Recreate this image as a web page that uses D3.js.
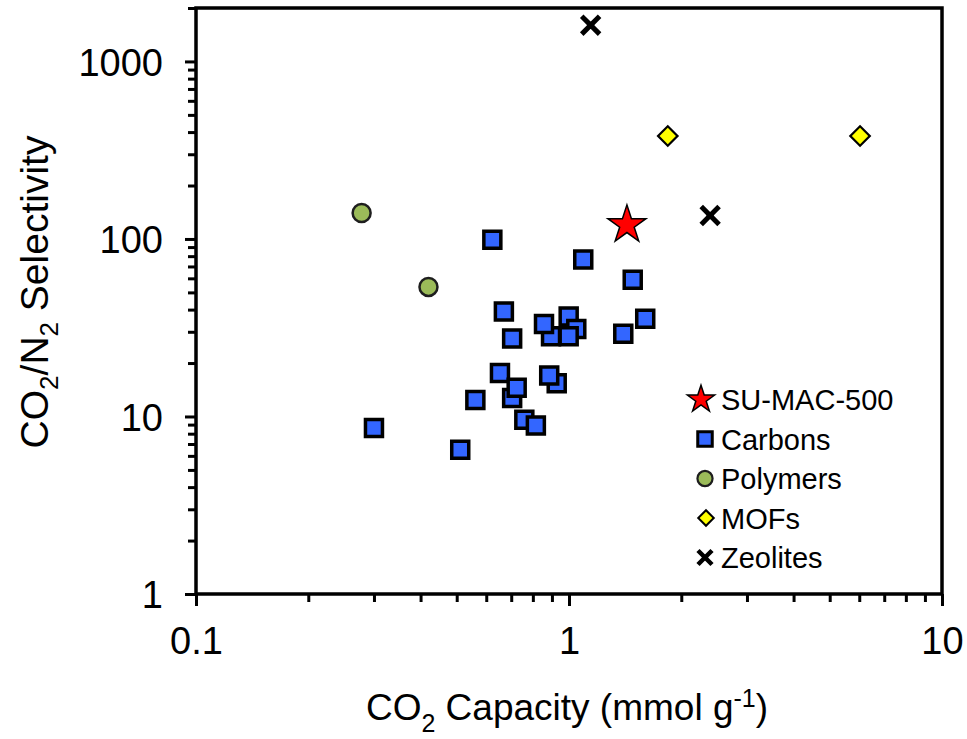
<!DOCTYPE html>
<html>
<head>
<meta charset="utf-8">
<script src="https://cdn.jsdelivr.net/npm/d3@7"></script>
<style>
  html, body { margin: 0; padding: 0; background: #fff; }
  svg { display: block; font-family: "Liberation Sans", Arial, sans-serif; }
</style>
</head>
<body>
<svg id="chart" width="967" height="739"></svg>
<script>
// ---------- data ----------
const xMajorTicks = [0.1, 1, 10];
const xTickLabels = ["0.1", "1", "10"];
const yMajorTicks = [1, 10, 100, 1000];
const yTickLabels = ["1", "10", "100", "1000"];

const suMacX = [1.43];
const suMacY = [120];

const carbonsX = [0.623, 1.092, 1.482, 0.669, 0.704, 0.998, 1.046, 0.895, 0.857, 0.998, 1.398, 1.601, 0.653, 0.927, 0.885, 0.704, 0.724, 0.561, 0.759, 0.815, 0.300, 0.511];
const carbonsY = [99, 76.5, 59, 39, 27.5, 36.6, 31.1, 28.3, 33.2, 28.3, 29.2, 35.5, 17.6, 15.4, 17.0, 12.7, 14.5, 12.4, 9.6, 8.9, 8.6, 6.5];

const polymersX = [0.278, 0.420];
const polymersY = [140, 53.7];

const mofsX = [1.84, 6.03];
const mofsY = [380, 380];

const zeolitesX = [1.143, 2.39];
const zeolitesY = [1600, 135.6];

const legendLabels = ["SU-MAC-500", "Carbons", "Polymers", "MOFs", "Zeolites"];

// ---------- layout ----------
const svg = d3.select("#chart");
const L = 196, R = 942, T = 8, B = 594;

const x = d3.scaleLog().domain([0.1, 10]).range([L, R]);
const y = d3.scaleLog().domain([1, 2000]).range([B, T]);

const minorX = [];
[0.1, 1].forEach(d => { for (let k = 2; k <= 9; k++) minorX.push(d * k); });
const minorY = [];
[1, 10, 100].forEach(d => { for (let k = 2; k <= 9; k++) minorY.push(d * k); });
minorY.push(2000);

// minor ticks
const gxm = svg.append("g").attr("transform", `translate(0,${B})`)
  .call(d3.axisBottom(x).tickValues(minorX).tickSize(8).tickFormat(""));
const gym = svg.append("g").attr("transform", `translate(${L},0)`)
  .call(d3.axisLeft(y).tickValues(minorY).tickSize(8).tickFormat(""));

// major ticks
const gx = svg.append("g").attr("transform", `translate(0,${B})`)
  .call(d3.axisBottom(x).tickValues(xMajorTicks).tickSize(12)
    .tickFormat((d, i) => xTickLabels[i]));
const gy = svg.append("g").attr("transform", `translate(${L},0)`)
  .call(d3.axisLeft(y).tickValues(yMajorTicks).tickSize(11)
    .tickFormat((d, i) => yTickLabels[i]));

[gxm, gym, gx, gy].forEach(g => {
  g.select(".domain").remove();
  g.selectAll(".tick line").attr("stroke", "#000").attr("stroke-width", 3);
});

gx.selectAll(".tick text")
  .attr("fill", "#000").attr("font-size", 38)
  .attr("y", 60).attr("dy", 0)
  .attr("text-anchor", "middle");
gy.selectAll(".tick text")
  .attr("fill", "#000").attr("font-size", 38)
  .attr("x", -33).attr("dy", "0.36em")
  .attr("text-anchor", "end");

// frame
svg.append("rect")
  .attr("x", L).attr("y", T).attr("width", R - L).attr("height", B - T)
  .attr("fill", "none").attr("stroke", "#000").attr("stroke-width", 3.5);

// ---------- markers ----------
const plot = svg.append("g");

function zip(xs, ys) { return xs.map((v, i) => ({ x: v, y: ys[i] })); }

// polymers
plot.selectAll("path.poly").data(zip(polymersX, polymersY)).join("path")
  .attr("class", "poly")
  .attr("transform", d => `translate(${x(d.x)},${y(d.y)})`)
  .attr("d", d3.symbol(d3.symbolCircle, 254)())
  .attr("fill", "#9bbb59").attr("stroke", "#1e1e1e").attr("stroke-width", 2.5);

// carbons
plot.selectAll("path.carb").data(zip(carbonsX, carbonsY)).join("path")
  .attr("class", "carb")
  .attr("transform", d => `translate(${x(d.x)},${y(d.y)})`)
  .attr("d", d3.symbol(d3.symbolSquare, 17 * 17)())
  .attr("fill", "#3366ff").attr("stroke", "#000").attr("stroke-width", 3.5);

// MOFs
plot.selectAll("path.mof").data(zip(mofsX, mofsY)).join("path")
  .attr("class", "mof")
  .attr("transform", d => `translate(${x(d.x)},${y(d.y)}) rotate(45)`)
  .attr("d", d3.symbol(d3.symbolSquare, 190)())
  .attr("fill", "#ffff00").attr("stroke", "#000").attr("stroke-width", 2.2);

// zeolites
const zg = plot.selectAll("g.zeo").data(zip(zeolitesX, zeolitesY)).join("g")
  .attr("class", "zeo")
  .attr("transform", d => `translate(${x(d.x)},${y(d.y)})`);
zg.append("path").attr("d", d3.symbol(d3.symbolX, 210)())
  .attr("fill", "none").attr("stroke", "#000").attr("stroke-width", 5);
zg.append("path").attr("d", d3.symbol(d3.symbolSquare, 49)()).attr("fill", "#000");

// SU-MAC-500 star
plot.selectAll("path.star").data(zip(suMacX, suMacY)).join("path")
  .attr("class", "star")
  .attr("transform", d => `translate(${x(d.x)},${y(d.y)})`)
  .attr("d", d3.symbol(d3.symbolStar, 450)())
  .attr("fill", "#ff0000").attr("stroke", "#000").attr("stroke-width", 1.5);

// ---------- legend ----------
const lg = svg.append("g");
const base0 = 410, step = 39.5, mx = 705, tx = 721;
legendLabels.forEach((lab, i) => {
  const by = base0 + i * step, cy = by - 10.5;
  if (i === 0) {
    lg.append("path").attr("transform", `translate(${mx - 4},${cy})`)
      .attr("d", d3.symbol(d3.symbolStar, 230)())
      .attr("fill", "#ff0000").attr("stroke", "#000").attr("stroke-width", 1.5);
  } else if (i === 1) {
    lg.append("path").attr("transform", `translate(${mx},${cy})`)
      .attr("d", d3.symbol(d3.symbolSquare, 14.5 * 14.5)())
      .attr("fill", "#3366ff").attr("stroke", "#000").attr("stroke-width", 3);
  } else if (i === 2) {
    lg.append("path").attr("transform", `translate(${mx},${cy})`)
      .attr("d", d3.symbol(d3.symbolCircle, 180)())
      .attr("fill", "#9bbb59").attr("stroke", "#1e1e1e").attr("stroke-width", 2.2);
  } else if (i === 3) {
    lg.append("path").attr("transform", `translate(${mx + 1},${cy}) rotate(45)`)
      .attr("d", d3.symbol(d3.symbolSquare, 120)())
      .attr("fill", "#ffff00").attr("stroke", "#000").attr("stroke-width", 2);
  } else {
    const g = lg.append("g").attr("transform", `translate(${mx},${cy})`);
    g.append("path").attr("d", d3.symbol(d3.symbolX, 130)())
      .attr("fill", "none").attr("stroke", "#000").attr("stroke-width", 4.5);
    g.append("path").attr("d", d3.symbol(d3.symbolSquare, 30)()).attr("fill", "#000");
  }
  lg.append("text").attr("x", tx).attr("y", by)
    .attr("font-size", 29).attr("fill", "#000").text(lab);
});

// ---------- axis titles ----------
const xt = svg.append("text").attr("x", 567).attr("y", 720)
  .attr("text-anchor", "middle").attr("font-size", 37).attr("fill", "#000");
xt.append("tspan").text("CO");
xt.append("tspan").attr("font-size", 25).attr("dy", 12).text("2");
xt.append("tspan").attr("dy", -12).text(" Capacity (mmol g");
xt.append("tspan").attr("font-size", 25).attr("dy", -13).text("-1");
xt.append("tspan").attr("dy", 13).text(")");

const yt = svg.append("text")
  .attr("transform", "translate(48,292) rotate(-90)")
  .attr("text-anchor", "middle").attr("font-size", 39).attr("fill", "#000");
yt.append("tspan").text("CO");
yt.append("tspan").attr("font-size", 26).attr("dy", 10).text("2");
yt.append("tspan").attr("dy", -10).text("/N");
yt.append("tspan").attr("font-size", 26).attr("dy", 10).text("2");
yt.append("tspan").attr("dy", -10).text(" Selectivity");
</script>
</body>
</html>
